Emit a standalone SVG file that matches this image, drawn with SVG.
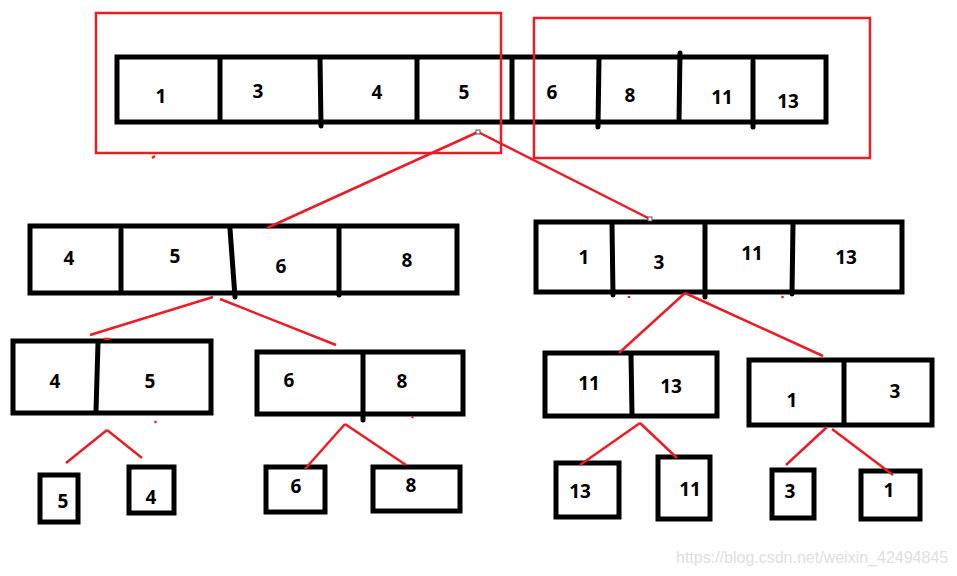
<svg xmlns="http://www.w3.org/2000/svg" width="957" height="576" viewBox="0 0 957 576">
<style>
.box{fill:none;stroke:#000;stroke-width:5}
.div{stroke:#000;stroke-width:5;stroke-linecap:round}
.red{fill:none;stroke:#ed1c24;stroke-width:2.5}
.con{stroke:#ed1c24;stroke-width:2.5;fill:none}
.lbl{font-family:"Noto Sans","Liberation Sans",sans-serif;font-weight:bold;font-size:19px;fill:#000;text-anchor:middle}
.wm{font-family:"Liberation Sans",Arial,sans-serif;font-size:16px;fill:#e0e0e0}
</style>
<rect width="957" height="576" fill="#fff"/>

<g id="top-array">
<rect class="box" x="117" y="57" width="709" height="65"/>
<line class="div" x1="220" y1="58" x2="220" y2="121"/>
<line class="div" x1="320" y1="58" x2="321" y2="126"/>
<line class="div" x1="417" y1="58" x2="417" y2="121"/>
<line class="div" x1="512" y1="58" x2="512" y2="121"/>
<line class="div" x1="599" y1="58" x2="598" y2="127"/>
<line class="div" x1="680" y1="53" x2="679" y2="121"/>
<line class="div" x1="753" y1="61" x2="753" y2="127"/>
<text class="lbl" x="161" y="103">1</text>
<text class="lbl" x="258" y="98">3</text>
<text class="lbl" x="377" y="99">4</text>
<text class="lbl" x="464" y="99">5</text>
<text class="lbl" x="552" y="99">6</text>
<text class="lbl" x="630" y="102">8</text>
<text class="lbl" x="722" y="104">11</text>
<text class="lbl" x="788" y="108">13</text>
</g>

<g id="group-left">
<rect class="red" x="96" y="13" width="405" height="140"/>
</g>
<g id="group-right">
<rect class="red" x="534" y="18" width="336" height="140"/>
</g>

<g id="mid-left">
<rect class="box" x="30" y="226" width="427" height="67"/>
<line class="div" x1="121" y1="230" x2="121" y2="290"/>
<line class="div" x1="230" y1="229" x2="235" y2="297"/>
<line class="div" x1="339" y1="228" x2="339" y2="295"/>
<text class="lbl" x="69" y="265">4</text>
<text class="lbl" x="175" y="263">5</text>
<text class="lbl" x="281" y="273">6</text>
<text class="lbl" x="407" y="267">8</text>
</g>

<g id="mid-right">
<rect class="box" x="536" y="222" width="366" height="70"/>
<line class="div" x1="612" y1="224" x2="613" y2="295"/>
<line class="div" x1="705" y1="225" x2="705" y2="297"/>
<line class="div" x1="793" y1="224" x2="792" y2="294"/>
<text class="lbl" x="584" y="264">1</text>
<text class="lbl" x="659" y="269">3</text>
<text class="lbl" x="752" y="260">11</text>
<text class="lbl" x="846" y="264">13</text>
</g>

<g id="n-4-5">
<rect class="box" x="13" y="341" width="198" height="72"/>
<line class="div" x1="98" y1="343" x2="96" y2="411"/>
<text class="lbl" x="55" y="388">4</text>
<text class="lbl" x="150" y="388">5</text>
</g>

<g id="n-6-8">
<rect class="box" x="257" y="352" width="206" height="62"/>
<line class="div" x1="363" y1="354" x2="363" y2="420"/>
<text class="lbl" x="289" y="387">6</text>
<text class="lbl" x="402" y="388">8</text>
</g>

<g id="n-11-13">
<rect class="box" x="545" y="353" width="172" height="63"/>
<line class="div" x1="631" y1="355" x2="632" y2="414"/>
<text class="lbl" x="589" y="390">11</text>
<text class="lbl" x="671" y="393">13</text>
</g>

<g id="n-1-3">
<rect class="box" x="749" y="360" width="183" height="65"/>
<line class="div" x1="844" y1="362" x2="844" y2="423"/>
<text class="lbl" x="792" y="407">1</text>
<text class="lbl" x="895" y="398">3</text>
</g>

<g id="leaf-5"><rect class="box" x="40" y="475" width="38" height="47"/><text class="lbl" x="63" y="508">5</text></g>
<g id="leaf-4"><rect class="box" x="129" y="467" width="45" height="46"/><text class="lbl" x="151" y="504">4</text></g>
<g id="leaf-6"><rect class="box" x="266" y="467" width="59" height="45"/><text class="lbl" x="296" y="493">6</text></g>
<g id="leaf-8"><rect class="box" x="373" y="467" width="87" height="44"/><text class="lbl" x="411" y="492">8</text></g>
<g id="leaf-13"><rect class="box" x="556" y="463" width="63" height="54"/><text class="lbl" x="580" y="498">13</text></g>
<g id="leaf-11"><rect class="box" x="658" y="457" width="52" height="62"/><text class="lbl" x="690" y="496">11</text></g>
<g id="leaf-3"><rect class="box" x="772" y="470" width="42" height="48"/><text class="lbl" x="790" y="498">3</text></g>
<g id="leaf-1"><rect class="box" x="861" y="471" width="59" height="48"/><text class="lbl" x="889" y="497">1</text></g>

<g id="connectors">
<line class="con" x1="478" y1="132" x2="267" y2="228"/>
<line class="con" x1="478" y1="132" x2="650" y2="219"/>
<rect x="476" y="130" width="4" height="4" fill="#fff" stroke="#555" stroke-width="1"/>
<rect x="648" y="217" width="4" height="4" fill="#fff" stroke="#555" stroke-width="1"/>
<line class="con" x1="213" y1="297" x2="90" y2="335"/>
<line class="con" x1="220" y1="299" x2="336" y2="345"/>
<line class="con" x1="685" y1="293" x2="619" y2="353"/>
<line class="con" x1="685" y1="293" x2="823" y2="356"/>
<line class="con" x1="107" y1="430" x2="66" y2="463"/>
<line class="con" x1="107" y1="430" x2="142" y2="458"/>
<line class="con" x1="345" y1="424" x2="305" y2="469"/>
<line class="con" x1="345" y1="424" x2="406" y2="465"/>
<line class="con" x1="640" y1="423" x2="580" y2="465"/>
<line class="con" x1="640" y1="423" x2="677" y2="458"/>
<line class="con" x1="827" y1="427" x2="786" y2="465"/>
<line class="con" x1="832" y1="429" x2="893" y2="475"/>
<line class="con" x1="152" y1="158" x2="155" y2="156"/>
<line class="con" x1="104" y1="339" x2="110" y2="339"/>
<line class="con" x1="155" y1="423" x2="156" y2="421"/>
<line class="con" x1="629" y1="298" x2="629" y2="296"/>
<line class="con" x1="782" y1="298" x2="783" y2="296"/>
<line class="con" x1="412" y1="418" x2="413" y2="416"/>
</g>

<text class="wm" x="676" y="563">https://blog.csdn.net/weixin_42494845</text>
</svg>
